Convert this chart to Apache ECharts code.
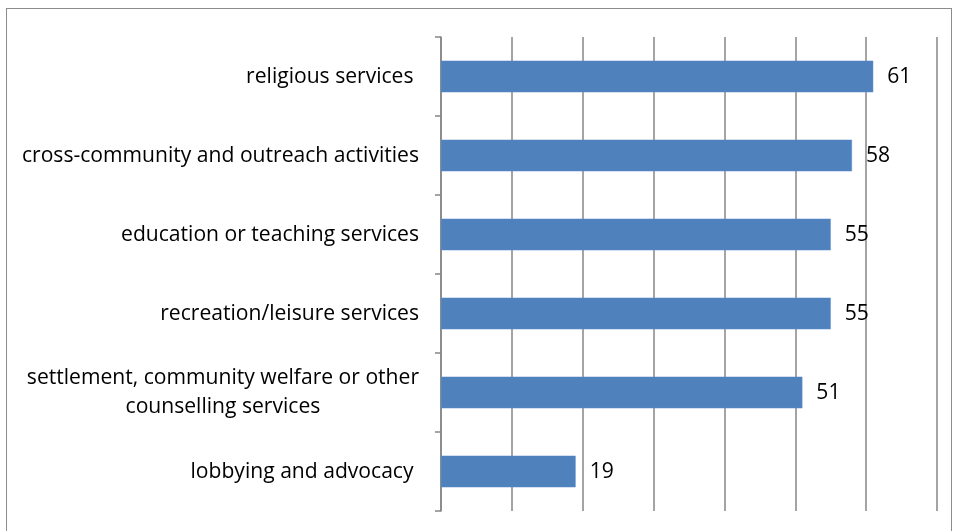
<!DOCTYPE html>
<html><head><meta charset="utf-8">
<script src="https://cdn.jsdelivr.net/npm/echarts@6/dist/echarts.min.js"></script>
<style>
html,body{margin:0;padding:0;background:#fff;}
#frame{position:absolute;left:6px;top:8px;width:946px;height:600px;border:1px solid #8c8c8c;box-sizing:border-box;}
#chart{position:absolute;left:0;top:0;width:955px;height:531px;}
</style></head>
<body>
<div id="frame"></div>
<div id="chart"></div>
<script>
const categories = [
  "religious services ",
  "cross-community and outreach activities",
  "education or teaching services",
  "recreation/leisure services",
  "settlement, community welfare or other\ncounselling services",
  "lobbying and advocacy "
];
const values = [61, 58, 55, 55, 51, 19];
const axisMin = 0, axisMax = 70, axisInterval = 10;

const chart = echarts.init(document.getElementById('chart'), null, {renderer:'canvas'});
const font = 'Open Sans';
const fs = 21.1;
chart.setOption({
  animation:false,
  grid:{left:441, right:18, top:37, bottom:20, containLabel:false},
  xAxis:{
    type:'value', min:axisMin, max:axisMax, interval:axisInterval,
    axisLine:{show:false}, axisTick:{show:false}, axisLabel:{show:false},
    splitLine:{show:true, lineStyle:{color:'#868686', width:1.5}}
  },
  yAxis:{
    type:'category', data:categories.slice().reverse(),
    axisLine:{show:true, lineStyle:{color:'#868686', width:1.5}},
    axisTick:{show:true, inside:false, length:6, lineStyle:{color:'#868686', width:1.5}},
    axisLabel:{
      margin:22, color:'#000', fontFamily:font, fontSize:fs, lineHeight:29,
      formatter: v => v.split('\n').map(l => '{c|' + l + '}').join('\n'),
      rich:{c:{align:'center', fontFamily:font, fontSize:fs, lineHeight:29, color:'#000'}}
    }
  },
  series:[{
    type:'bar', data:values.slice().reverse(), barCategoryGap:'60%',
    itemStyle:{color:'#4f81bd', borderColor:'#5b8ccc', borderWidth:0.5},
    label:{show:true, position:'right', distance:14, color:'#000', fontFamily:font, fontSize:fs}
  }]
});
</script>
</body></html>
